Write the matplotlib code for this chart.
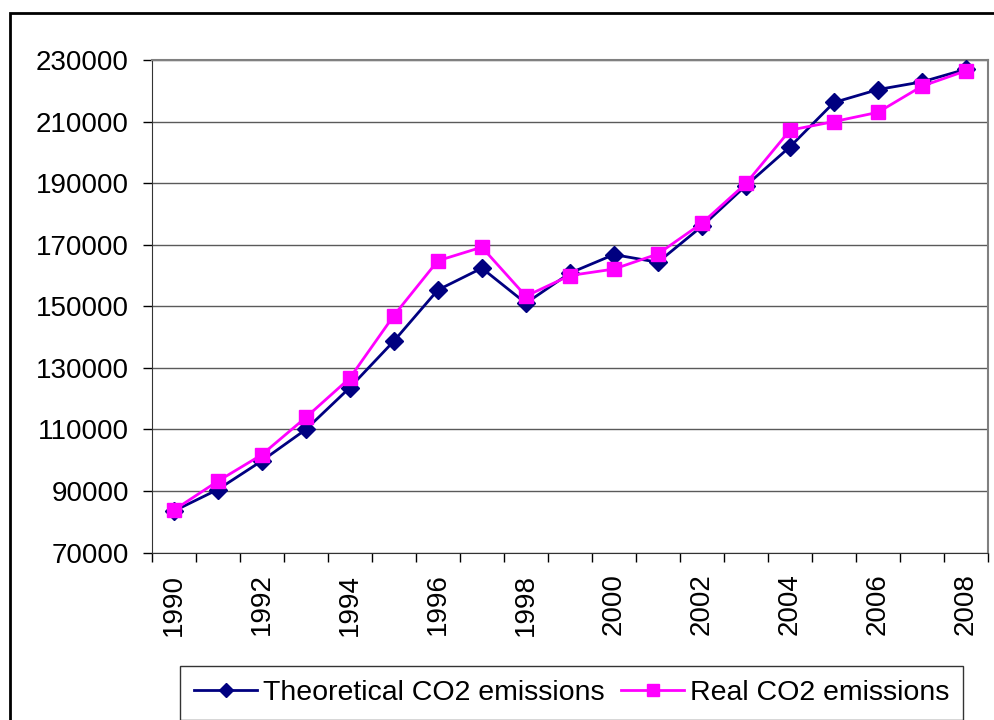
import numpy as np
import matplotlib
matplotlib.use("Agg")
import matplotlib.pyplot as plt
from matplotlib.patches import Rectangle

# datos
years = list(range(1990, 2009))
theoretical = [83500, 90500, 99800, 110000, 123600, 138700, 155300, 162400, 151000, 160800,
               166800, 164300, 176000, 189200, 201800, 216200, 220400, 222900, 227000]
real = [83800, 93200, 101800, 113900, 126700, 147000, 164800, 169200, 153300, 160000,
        162100, 167000, 177000, 189900, 207200, 210000, 213000, 221500, 226500]
yticks = [70000, 90000, 110000, 130000, 150000, 170000, 190000, 210000, 230000]

plt.rcParams['font.family'] = ['Liberation Sans', 'DejaVu Sans']

fig = plt.figure(figsize=(9.95, 7.2), dpi=100)
ax = fig.add_axes([0.1525, 0.2324, 0.995 - 0.1525 - 0.002, 0.9167 - 0.2324])

x = np.arange(len(years))
ax.plot(x, theoretical, color='#000080', lw=2, marker='D', markersize=9,
        label='Theoretical CO2 emissions', zorder=3)
ax.plot(x, real, color='#FF00FF', lw=2, marker='s', markersize=10,
        label='Real CO2 emissions', zorder=4)

ax.set_xlim(-0.5, len(years) - 0.5)
ax.set_ylim(70000, 230000)
ax.set_yticks(yticks)
ax.set_yticklabels([str(v) for v in yticks])
ax.yaxis.grid(True, color='#5a5a5a', lw=1)
ax.set_axisbelow(True)

# etiquetas de anos pares
ax.set_xticks(x[::2])
ax.set_xticklabels([str(y) for y in years[::2]], rotation=90)
ax.set_xticks(np.arange(-0.5, len(years), 1), minor=True)
ax.tick_params(axis='x', which='major', length=0, pad=15, labelsize=20)
ax.tick_params(axis='x', which='minor', length=6.5, width=1, direction='out')
ax.tick_params(axis='y', length=6.5, width=1, pad=10, labelsize=20)

for s in ['top', 'right']:
    ax.spines[s].set_color('#808080')
    ax.spines[s].set_linewidth(1.5)
ax.spines['left'].set_color('#333333')
ax.spines['bottom'].set_color('#333333')

leg = ax.legend(loc='upper left', bbox_to_anchor=(180 / 995, 1 - 666 / 720), bbox_transform=fig.transFigure,
                borderaxespad=0, ncol=2, fontsize=20.5, frameon=True, fancybox=False, edgecolor='black',
                handlelength=2.2, columnspacing=0.6, handletextpad=0.2, borderpad=0.5,
                markerscale=0.8)
leg.get_frame().set_linewidth(1)

# borde del grafico
fig.patches.append(Rectangle((9.5 / 995, -0.1), 1.2, 1 - 13 / 720 + 0.1, transform=fig.transFigure,
                             fill=False, edgecolor='black', lw=2))

fig.savefig('out.png', dpi=100)
